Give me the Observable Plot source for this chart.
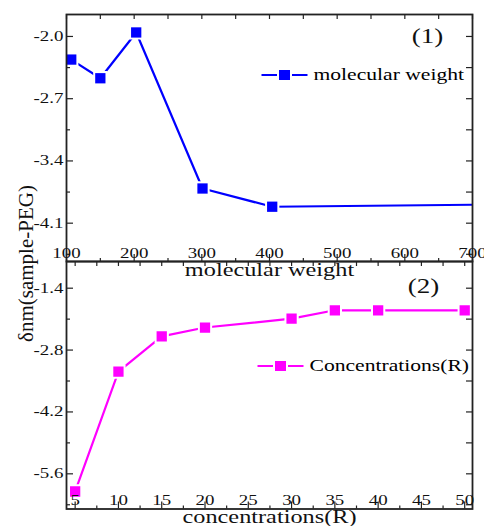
<!DOCTYPE html>
<html><head><meta charset="utf-8">
<script src="https://cdn.jsdelivr.net/npm/d3@7"></script>
<script src="https://cdn.jsdelivr.net/npm/@observablehq/plot@0.6"></script>
<style>
body{margin:0;background:#fff;}
#wrap{position:relative;width:484px;height:526px;overflow:hidden;background:#fff;}
#wrap svg{position:absolute;left:0;top:0;}
#wrap svg text{font-family:"Liberation Serif","Times New Roman",serif;}
</style></head><body><div id="wrap"></div>
<script>
// ---- data ----
const mwX = [107, 150, 203, 301, 404, 1000];
const mwY = [-2.26, -2.47, -1.955, -3.71, -3.915, -3.87];
const mwLabel = "molecular weight";

const cX = [5, 10, 15, 20, 30, 35, 40, 50];
const cY = [-6.0, -3.29, -2.49, -2.29, -2.09, -1.9, -1.9, -1.9];
const cLabel = "Concentrations(R)";

const mwTicks = [100, 200, 300, 400, 500, 600, 700];
const mwMinor = [150, 250, 350, 450, 550, 650];
const topYTicks = [-2.0, -2.7, -3.4, -4.1];
const topYMinor = [-2.35, -3.05, -3.75, -4.45];

const cTicks = [5, 10, 15, 20, 25, 30, 35, 40, 45, 50];
const cMinor = [7.5, 12.5, 17.5, 22.5, 27.5, 32.5, 37.5, 42.5, 47.5];
const botYTicks = [-1.4, -2.8, -4.2, -5.6];
const botYMinor = [-2.1, -3.5, -4.9, -6.3];

const yTitle = "δnm(sample-PEG)";
const xTitleTop = "molecular weight";
const xTitleBot = "concentrations(R)";

// ---- style ----
const FONT = "Liberation Serif, Times New Roman, serif";
const AX = "#222";
const BLUE = "#0000ff";
const MAG = "#ff00ff";
const STRETCH = 1.35;

const mwData = mwX.map((x, i) => ({x, y: mwY[i]}));
const cData = cX.map((x, i) => ({x, y: cY[i]}));

function legendMark(cx, cy, color, label, lineHalf) {
  return (index, scales, values, dims) => {
    const g = d3.create("svg:g");
    g.append("line").attr("x1", cx - lineHalf).attr("x2", cx + lineHalf)
      .attr("y1", cy).attr("y2", cy).attr("stroke", color).attr("stroke-width", 2);
    g.append("rect").attr("x", cx - 7.5).attr("y", cy - 7).attr("width", 15).attr("height", 14).attr("fill", "white");
    g.append("rect").attr("x", cx - 5.5).attr("y", cy - 5).attr("width", 11).attr("height", 10).attr("fill", color);
    g.append("text").attr("x", cx + lineHalf + 6).attr("y", cy + 5.5)
      .attr("font-size", 16).attr("font-family", FONT).attr("fill", "#000")
      .attr("text-anchor", "start").text(label);
    return g.node();
  };
}

function panelMarks(opt) {
  const {FW, FH, xT, xM, yT, yM, data, color} = opt;
  return [
    // data
    Plot.line(data, {x: "x", y: "y", stroke: color, strokeWidth: 2.2, clip: true}),
    Plot.dot(data, {x: "x", y: "y", symbol: "square", r: 5.8, fill: color, stroke: "white", strokeWidth: 4, paintOrder: "stroke", clip: true}),
    Plot.frame({stroke: AX, strokeWidth: 1.8}),
    // top edge ticks (inward)
    Plot.tickX(xT.concat(xM), {x: d => d, insetBottom: FH - 5, stroke: AX, strokeWidth: 1.2}),
    // bottom edge ticks (inward)
    Plot.tickX(xT, {x: d => d, insetTop: FH - 7, stroke: AX, strokeWidth: 1.2}),
    Plot.tickX(xM, {x: d => d, insetTop: FH - 3, stroke: AX, strokeWidth: 1.2}),
    // left ticks
    Plot.tickY(yT, {y: d => d, insetRight: FW - 7, stroke: AX, strokeWidth: 1.2}),
    Plot.tickY(yM, {y: d => d, insetRight: FW - 4, stroke: AX, strokeWidth: 1.2}),
    // right ticks
    Plot.tickY(yT.concat(yM), {y: d => d, insetLeft: FW - 6, stroke: AX, strokeWidth: 1.2}),
    // tick labels
    Plot.text(xT, {x: d => d, frameAnchor: "bottom", text: d => String(d), lineAnchor: "bottom", dy: -4, fontSize: 14, fontFamily: FONT, fill: "#111"}),
    Plot.text(yT, {y: d => d, frameAnchor: "left", text: d => d.toFixed(1), textAnchor: "end", lineAnchor: "middle", dx: -3, fontSize: 14, fontFamily: FONT, fill: "#111"})
  ];
}

const baseStyle = {fontFamily: FONT, fontSize: "14px", background: "transparent", overflow: "visible", color: "#000"};

// ---- bottom panel ----
const BH = 526, BMT = 261, BMB = 17.5, ML = 66, MR = 12;
const FW = 484 - ML - MR;
const FH2 = BH - BMT - BMB;
const bottomPlot = Plot.plot({
  width: 484, height: BH,
  marginTop: BMT, marginBottom: BMB, marginLeft: ML, marginRight: MR,
  x: {domain: [4.0, 50.9], axis: null},
  y: {domain: [-6.396, -0.796], axis: null},
  style: baseStyle,
  marks: [
    ...panelMarks({FW, FH: FH2, xT: cTicks, xM: cMinor, yT: botYTicks, yM: botYMinor, data: cData, color: MAG}),
    Plot.text(["(2)"], {frameAnchor: "top-right", dx: -49, dy: 31, lineAnchor: "bottom", textAnchor: "middle", fontSize: 20, fontFamily: FONT, fill: "#111"}),
    Plot.text([xTitleBot], {frameAnchor: "bottom", dy: 14, lineAnchor: "bottom", textAnchor: "middle", fontSize: 18, fontFamily: FONT, fill: "#111"}),
    Plot.text([yTitle], {frameAnchor: "top-left", dx: -40, dy: 2, rotate: -90, textAnchor: "middle", lineAnchor: "middle", fontSize: 21, fontFamily: FONT, fill: "#111"}),
    legendMark(280.5, 366, MAG, cLabel, 23)
  ]
});

// ---- top panel ----
const TH = 290, TMT = 14, TMB = 29;
const FH1 = TH - TMT - TMB;
const topPlot = Plot.plot({
  width: 484, height: TH,
  marginTop: TMT, marginBottom: TMB, marginLeft: ML, marginRight: MR,
  x: {domain: [100, 700], axis: null},
  y: {domain: [-4.531, -1.753], axis: null},
  style: baseStyle,
  marks: [
    ...panelMarks({FW, FH: FH1, xT: mwTicks, xM: mwMinor, yT: topYTicks, yM: topYMinor, data: mwData, color: BLUE}),
    Plot.text(["(1)"], {frameAnchor: "top-right", dx: -45, dy: 28, lineAnchor: "bottom", textAnchor: "middle", fontSize: 20, fontFamily: FONT, fill: "#111"}),
    Plot.text([xTitleTop], {frameAnchor: "bottom", dy: 14, lineAnchor: "bottom", textAnchor: "middle", fontSize: 18, fontFamily: FONT, fill: "#111"}),
    legendMark(284.5, 75, BLUE, mwLabel, 23)
  ]
});

const wrap = document.getElementById("wrap");
wrap.appendChild(bottomPlot);
wrap.appendChild(topPlot);

// horizontally widen non-rotated text (reference glyphs are wide)
for (const svg of [bottomPlot, topPlot]) {
  for (const t of Array.from(svg.querySelectorAll("text"))) {
    const tr = t.getAttribute("transform") || "";
    if (tr.includes("rotate")) continue;
    const g = document.createElementNS("http://www.w3.org/2000/svg", "g");
    t.parentNode.insertBefore(g, t);
    g.appendChild(t);
    const b = g.getBBox();
    const anchor = getComputedStyle(t).textAnchor;
    const ax = anchor === "end" ? b.x + b.width : anchor === "middle" ? b.x + b.width / 2 : b.x;
    g.setAttribute("transform", `translate(${ax},0) scale(${STRETCH},1) translate(${-ax},0)`);
  }
}
</script>
</body></html>
